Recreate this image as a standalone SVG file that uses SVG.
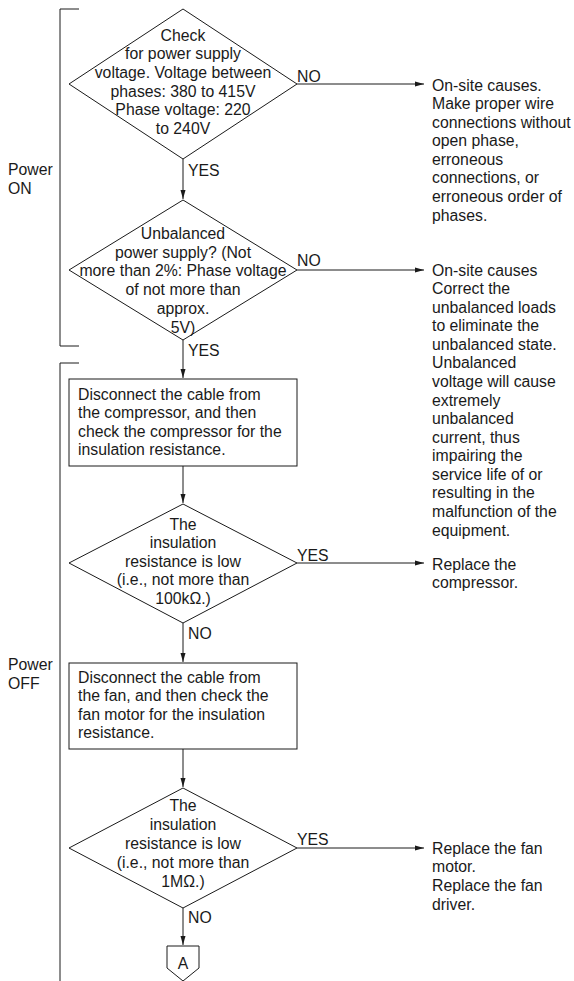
<svg xmlns="http://www.w3.org/2000/svg" width="574" height="981" viewBox="0 0 574 981">
<style>
text{font-family:"Liberation Sans",Arial,sans-serif;font-size:15.8px;fill:#1a1a1a}
.c{text-anchor:middle}
.s{fill:#fff;stroke:#1a1a1a;stroke-width:1}
.l{fill:none;stroke:#1a1a1a;stroke-width:1}
</style>
<defs>
<marker id="ah" markerWidth="10" markerHeight="8" refX="9" refY="4" orient="auto" markerUnits="userSpaceOnUse">
<path d="M0,1.5 L9,4 L0,6.5 Z" fill="#1a1a1a"/>
</marker>
</defs>
<rect width="574" height="981" fill="#fff"/>
<g id="brackets">
<path class="l" d="M79,9 H60 V346 H79"/>
<path class="l" d="M79,363 H60 V981"/>
<text x="8" y="175">Power</text>
<text x="8" y="193.5">ON</text>
<text x="8" y="670">Power</text>
<text x="8" y="688.5">OFF</text>
</g>
<g id="connectors">
<line class="l" x1="183" y1="159" x2="183" y2="199" marker-end="url(#ah)"/>
<line class="l" x1="297" y1="84" x2="424" y2="84" marker-end="url(#ah)"/>
<line class="l" x1="183" y1="340" x2="183" y2="378" marker-end="url(#ah)"/>
<line class="l" x1="297" y1="270" x2="424" y2="270" marker-end="url(#ah)"/>
<line class="l" x1="183" y1="466" x2="183" y2="503" marker-end="url(#ah)"/>
<line class="l" x1="297" y1="563" x2="424" y2="563" marker-end="url(#ah)"/>
<line class="l" x1="183" y1="623" x2="183" y2="662" marker-end="url(#ah)"/>
<line class="l" x1="183" y1="749" x2="183" y2="787" marker-end="url(#ah)"/>
<line class="l" x1="297" y1="848" x2="424" y2="848" marker-end="url(#ah)"/>
<line class="l" x1="183" y1="908" x2="183" y2="945" marker-end="url(#ah)"/>
<text x="188" y="175.5">YES</text>
<text x="297" y="81.5">NO</text>
<text x="188" y="355.5">YES</text>
<text x="297" y="265.5">NO</text>
<text x="297" y="560.5">YES</text>
<text x="188" y="638.5">NO</text>
<text x="297" y="844.5">YES</text>
<text x="188" y="922.5">NO</text>
</g>
<g id="d1">
<polygon class="s" points="183,9 297,84 183,159 69,84"/>
<text class="c" x="183" y="40.5">Check</text>
<text class="c" x="183" y="59">for power supply</text>
<text class="c" x="183" y="78">voltage. Voltage between</text>
<text class="c" x="183" y="96.5">phases: 380 to 415V</text>
<text class="c" x="183" y="115">Phase voltage: 220</text>
<text class="c" x="183" y="133.5">to 240V</text>
</g>
<g id="r1">
<text x="432" y="90.5">On-site causes.</text>
<text x="432" y="109">Make proper wire</text>
<text x="432" y="127.6">connections without</text>
<text x="432" y="146.2">open phase,</text>
<text x="432" y="164.8">erroneous</text>
<text x="432" y="183.4">connections, or</text>
<text x="432" y="201.9">erroneous order of</text>
<text x="432" y="220.5">phases.</text>
</g>
<g id="d2">
<polygon class="s" points="183,200 297,270 183,340 69,270"/>
<text class="c" x="183" y="238.5">Unbalanced</text>
<text class="c" x="183" y="257.5">power supply? (Not</text>
<text class="c" x="183" y="276">more than 2%: Phase voltage</text>
<text class="c" x="183" y="295">of not more than</text>
<text class="c" x="183" y="313.5">approx.</text>
<text class="c" x="183" y="332.5">5V)</text>
</g>
<g id="r2">
<text x="432" y="275.5">On-site causes</text>
<text x="432" y="294">Correct the</text>
<text x="432" y="312.6">unbalanced loads</text>
<text x="432" y="331.2">to eliminate the</text>
<text x="432" y="349.8">unbalanced state.</text>
<text x="432" y="368.4">Unbalanced</text>
<text x="432" y="386.9">voltage will cause</text>
<text x="432" y="405.5">extremely</text>
<text x="432" y="424.1">unbalanced</text>
<text x="432" y="442.6">current, thus</text>
<text x="432" y="461.2">impairing the</text>
<text x="432" y="479.8">service life of or</text>
<text x="432" y="498.4">resulting in the</text>
<text x="432" y="516.9">malfunction of the</text>
<text x="432" y="535.5">equipment.</text>
</g>
<g id="b1">
<rect class="s" x="69" y="379" width="228" height="87"/>
<text x="78" y="399.5">Disconnect the cable from</text>
<text x="78" y="418">the compressor, and then</text>
<text x="78" y="436.5">check the compressor for the</text>
<text x="78" y="455">insulation resistance.</text>
</g>
<g id="d3">
<polygon class="s" points="183,504 297,563 183,623 69,563"/>
<text class="c" x="183" y="529.5">The</text>
<text class="c" x="183" y="548">insulation</text>
<text class="c" x="183" y="566.5">resistance is low</text>
<text class="c" x="183" y="585">(i.e., not more than</text>
<text class="c" x="183" y="603.5">100kΩ.)</text>
</g>
<g id="r3">
<text x="432" y="569.5">Replace the</text>
<text x="432" y="588">compressor.</text>
</g>
<g id="b2">
<rect class="s" x="69" y="663" width="228" height="86"/>
<text x="78" y="682.5">Disconnect the cable from</text>
<text x="78" y="701">the fan, and then check the</text>
<text x="78" y="719.5">fan motor for the insulation</text>
<text x="78" y="738">resistance.</text>
</g>
<g id="d4">
<polygon class="s" points="183,788 297,848 183,908 69,848"/>
<text class="c" x="183" y="810.5">The</text>
<text class="c" x="183" y="829.5">insulation</text>
<text class="c" x="183" y="848.5">resistance is low</text>
<text class="c" x="183" y="867.5">(i.e., not more than</text>
<text class="c" x="183" y="887">1MΩ.)</text>
</g>
<g id="r4">
<text x="432" y="853.5">Replace the fan</text>
<text x="432" y="872">motor.</text>
<text x="432" y="891">Replace the fan</text>
<text x="432" y="909.5">driver.</text>
</g>
<g id="A">
<polygon class="s" points="167,946 199,946 199,968 183,981 167,968"/>
<text class="c" x="183" y="968.5">A</text>
</g>
</svg>
